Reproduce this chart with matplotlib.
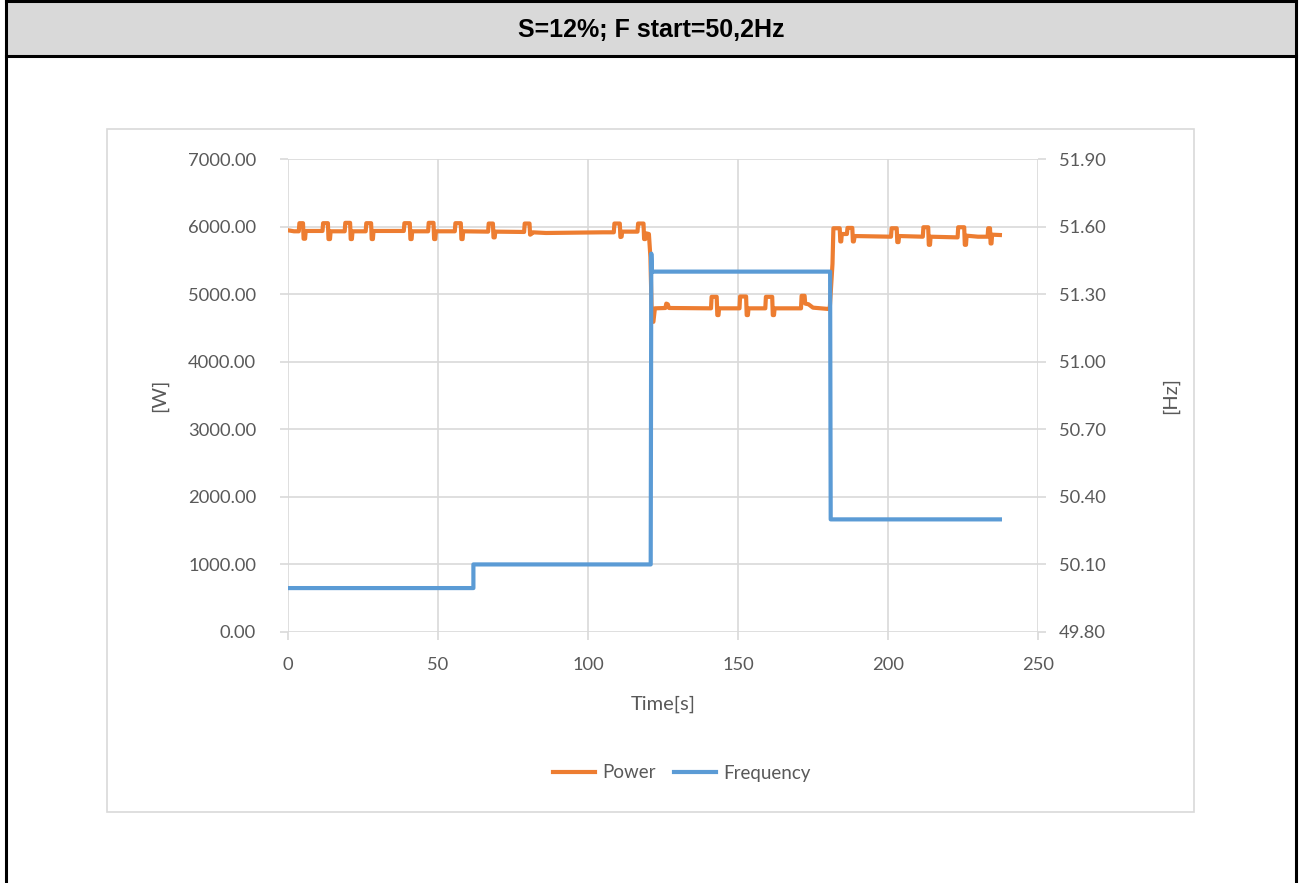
import matplotlib.pyplot as plt
from matplotlib.patches import Rectangle
from matplotlib.lines import Line2D

# power trace, vertices read as (time [s], power [W])
power_t = [0, 2.0, 3.6, 3.8, 5.0, 5.2, 5.7, 5.9,
           11.5, 11.7, 13.3, 13.5, 14.0, 14.2,
           18.9, 19.1, 20.7, 20.9, 21.3, 21.5,
           25.9, 26.1, 27.7, 27.9, 28.3, 28.5,
           38.6, 38.8, 40.6, 40.8, 41.2, 41.4,
           46.7, 46.9, 48.5, 48.7, 49.1, 49.3,
           55.6, 55.8, 57.6, 57.8, 58.2, 58.4,
           66.7, 66.9, 68.3, 68.5, 68.9, 69.1,
           78.7, 78.9, 80.5, 80.7, 81.1, 81.5, 86.0, 95.0, 105.0,
           108.6, 108.8, 110.6, 110.8, 111.2, 111.4,
           116.5, 116.7, 118.5, 118.7, 119.1, 119.3, 120.3, 120.8, 121.3, 121.8, 122.3,
           125.8, 126.1, 126.6, 127.0,
           141.0, 141.2, 142.9, 143.1, 143.5, 143.7,
           150.5, 150.7, 152.7, 152.9, 153.3, 153.5,
           159.1, 159.3, 161.4, 161.6, 162.0, 162.2,
           171.0, 171.2, 172.2, 172.4, 173.5, 175.0, 180.3, 180.6, 181.5, 181.8,
           183.9, 184.1, 184.4, 184.6, 186.3, 186.5, 188.1, 188.3, 188.6, 188.9,
           201.0, 201.2, 202.9, 203.1, 203.5, 203.7,
           211.6, 211.8, 213.4, 213.6, 214.0, 214.2,
           223.2, 223.4, 225.4, 225.6, 226.0, 226.2, 230.0,
           233.2, 233.4, 234.0, 234.2, 234.5, 234.7, 237.3]
power_w = [5945, 5930, 5930, 6050, 6050, 5820, 5820, 5935,
           5935, 6050, 6050, 5815, 5815, 5930,
           5930, 6055, 6055, 5815, 5815, 5930,
           5930, 6050, 6050, 5815, 5815, 5935,
           5935, 6050, 6050, 5815, 5815, 5930,
           5930, 6055, 6055, 5815, 5815, 5930,
           5930, 6050, 6050, 5815, 5815, 5930,
           5925, 6045, 6045, 5840, 5840, 5925,
           5920, 6045, 6045, 5880, 5890, 5915, 5905, 5910, 5915,
           5915, 6045, 6045, 5845, 5850, 5925,
           5925, 6045, 6045, 5815, 5815, 5900, 5890, 5550, 4600, 4590, 4790,
           4795, 4860, 4850, 4795,
           4790, 4960, 4960, 4690, 4690, 4790,
           4790, 4965, 4965, 4690, 4690, 4790,
           4790, 4960, 4960, 4690, 4690, 4790,
           4790, 4975, 4975, 4860, 4850, 4800, 4780, 4800, 5450, 5975,
           5975, 5780, 5780, 5890, 5890, 5980, 5980, 5780, 5780, 5860,
           5850, 5975, 5975, 5770, 5770, 5860,
           5850, 5990, 5990, 5730, 5730, 5850,
           5840, 5990, 5990, 5730, 5730, 5865, 5850,
           5850, 5975, 5975, 5750, 5750, 5880, 5875]

# grid frequency, vertices read as (time [s], frequency [Hz])
freq_t = [0, 61.8, 61.8, 120.9, 121.1, 121.3, 180.7, 180.9, 237.3]
freq_hz = [49.995, 49.995, 50.10, 50.10, 51.48, 51.40, 51.40, 50.30, 50.30]

title = "S=12%; F start=50,2Hz"
orange = "#ED7D31"
blue = "#5B9BD5"
txt = "#595959"
gridc = "#D9D9D9"

plt.rcParams['font.family'] = ['Lato', 'DejaVu Sans']

fig = plt.figure(figsize=(13.01, 8.83), dpi=100)
W, H = 1301, 883

# header band and outer frame
fig.add_artist(Rectangle((5 / W, 1 - 56 / H), 1291 / W, 56 / H, transform=fig.transFigure,
                         facecolor="#D9D9D9", edgecolor="none", zorder=0))
fig.add_artist(Line2D([6 / W, 6 / W], [0, 1], transform=fig.transFigure, color="black", lw=2.2))
fig.add_artist(Line2D([1296 / W, 1296 / W], [0, 1], transform=fig.transFigure, color="black", lw=2.2))
fig.add_artist(Line2D([6 / W, 1296 / W], [1 - 1 / H, 1 - 1 / H], transform=fig.transFigure, color="black", lw=2.2))
fig.add_artist(Line2D([6 / W, 1296 / W], [1 - 56 / H, 1 - 56 / H], transform=fig.transFigure, color="black", lw=2.2))
fig.text(651 / W, 1 - 30 / H, title, ha="center", va="center", fontsize=18, fontweight="bold",
         family=["Liberation Sans", "DejaVu Sans"], color="black")

# chart area border
fig.add_artist(Rectangle((107 / W, 1 - 812 / H), 1087 / W, 683 / H, transform=fig.transFigure,
                         facecolor="none", edgecolor=gridc, lw=1.2, zorder=0))

ax = fig.add_axes([288 / W, 1 - 632 / H, 750 / W, 473 / H])
ax2 = ax.twinx()
ax.set_zorder(2)
ax2.set_zorder(3)
ax.patch.set_alpha(0)
ax2.patch.set_alpha(0)

ax.plot(power_t, power_w, color=orange, lw=3.0, label="Power", solid_joinstyle="round")
ax2.plot(freq_t, freq_hz, color=blue, lw=3.0, label="Frequency", solid_joinstyle="round")

ax.set_xlim(0, 250)
ax.set_ylim(0, 7000)
ax2.set_ylim(49.8, 51.9)
ax.set_xticks(range(0, 251, 50))
ax.set_yticks(range(0, 7001, 1000))
ax.set_yticklabels(["%.2f" % v for v in range(0, 7001, 1000)])
r_ticks = [49.8 + 0.3 * i for i in range(8)]
ax2.set_yticks(r_ticks)
ax2.set_yticklabels(["%.2f" % v for v in r_ticks])

ax.grid(True, color=gridc, lw=1.2)
ax.set_axisbelow(True)
for a in (ax, ax2):
    for s in a.spines.values():
        s.set_visible(False)
    a.tick_params(colors=gridc, labelcolor=txt, labelsize=13.2, length=6, width=1.2)
ax.tick_params(axis="y", pad=17)
ax.tick_params(axis="x", pad=12)
ax2.tick_params(axis="y", pad=9)

ax.set_xlabel("Time[s]", fontsize=14.5, color=txt, labelpad=16)
ax.set_ylabel("[W]", fontsize=14.5, color=txt, labelpad=14)
ax2.set_ylabel("[Hz]", fontsize=14.5, color=txt, labelpad=40)

h1, l1 = ax.get_legend_handles_labels()
h2, l2 = ax2.get_legend_handles_labels()
fig.legend(h1 + h2, l1 + l2, loc="center", bbox_to_anchor=(682 / W, 1 - 773 / H), ncol=2,
           frameon=False, fontsize=13.5, labelcolor=txt, handlelength=2.2, columnspacing=1.0,
           handletextpad=0.4)

fig.savefig("out.png", dpi=100)
